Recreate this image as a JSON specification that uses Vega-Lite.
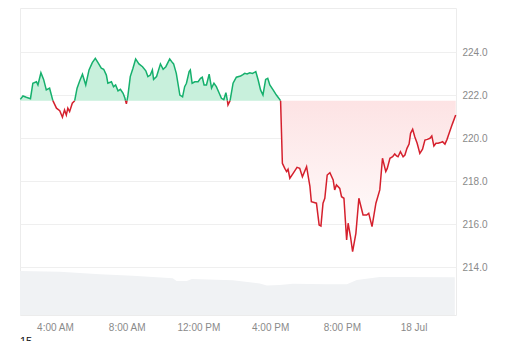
{
  "$schema": "https://vega.github.io/schema/vega-lite/v6.json",
  "width": 436,
  "height": 307,
  "autosize": {"type": "none"},
  "padding": {"left": 20, "top": 8, "right": 56, "bottom": 26},
  "background": "#ffffff",
  "config": {"view": {"stroke": "#ececec"}, "font": "Liberation Sans"},
  "title": {"text": "15", "orient": "bottom", "anchor": "start", "frame": "group", "fontSize": 11, "fontWeight": "normal", "color": "#111111", "offset": 4},
  "datasets": {
    "volume": [
      {"t": "2024-07-17T02:03:00Z", "v": 14.3},
      {"t": "2024-07-17T04:16:00Z", "v": 14.1},
      {"t": "2024-07-17T06:30:00Z", "v": 13.3},
      {"t": "2024-07-17T08:20:00Z", "v": 12.8},
      {"t": "2024-07-17T10:34:00Z", "v": 12.0},
      {"t": "2024-07-17T10:47:00Z", "v": 11.1},
      {"t": "2024-07-17T11:21:00Z", "v": 11.1},
      {"t": "2024-07-17T11:38:00Z", "v": 11.7},
      {"t": "2024-07-17T13:55:00Z", "v": 11.3},
      {"t": "2024-07-17T15:25:00Z", "v": 10.3},
      {"t": "2024-07-17T15:49:00Z", "v": 9.6},
      {"t": "2024-07-17T16:32:00Z", "v": 9.8},
      {"t": "2024-07-17T17:16:00Z", "v": 10.2},
      {"t": "2024-07-17T19:10:00Z", "v": 10.0},
      {"t": "2024-07-17T20:17:00Z", "v": 10.0},
      {"t": "2024-07-17T20:50:00Z", "v": 11.4},
      {"t": "2024-07-17T22:07:00Z", "v": 12.4},
      {"t": "2024-07-17T23:14:00Z", "v": 12.4},
      {"t": "2024-07-18T02:18:00Z", "v": 12.3}
    ],
    "price": [
      {"t": "2024-07-17T02:04:00Z", "p": 221.81, "s": "g1", "d": "up"},
      {"t": "2024-07-17T02:13:00Z", "p": 221.97, "s": "g1", "d": "up"},
      {"t": "2024-07-17T02:24:00Z", "p": 221.91, "s": "g1", "d": "up"},
      {"t": "2024-07-17T02:38:00Z", "p": 221.84, "s": "g1", "d": "up"},
      {"t": "2024-07-17T02:46:00Z", "p": 222.56, "s": "g1", "d": "up"},
      {"t": "2024-07-17T02:58:00Z", "p": 222.63, "s": "g1", "d": "up"},
      {"t": "2024-07-17T03:03:00Z", "p": 222.48, "s": "g1", "d": "up"},
      {"t": "2024-07-17T03:13:00Z", "p": 223.05, "s": "g1", "d": "up"},
      {"t": "2024-07-17T03:22:00Z", "p": 222.74, "s": "g1", "d": "up"},
      {"t": "2024-07-17T03:31:00Z", "p": 222.25, "s": "g1", "d": "up"},
      {"t": "2024-07-17T03:42:00Z", "p": 222.33, "s": "g1", "d": "up"},
      {"t": "2024-07-17T03:53:00Z", "p": 221.75, "s": "g1", "d": "up"},
      {"t": "2024-07-17T03:53:00Z", "p": 221.75, "s": "r1", "d": "down"},
      {"t": "2024-07-17T04:05:00Z", "p": 221.40, "s": "r1", "d": "down"},
      {"t": "2024-07-17T04:16:00Z", "p": 221.28, "s": "r1", "d": "down"},
      {"t": "2024-07-17T04:25:00Z", "p": 220.98, "s": "r1", "d": "down"},
      {"t": "2024-07-17T04:32:00Z", "p": 221.32, "s": "r1", "d": "down"},
      {"t": "2024-07-17T04:38:00Z", "p": 221.08, "s": "r1", "d": "down"},
      {"t": "2024-07-17T04:43:00Z", "p": 221.40, "s": "r1", "d": "down"},
      {"t": "2024-07-17T04:49:00Z", "p": 221.24, "s": "r1", "d": "down"},
      {"t": "2024-07-17T04:58:00Z", "p": 221.63, "s": "r1", "d": "down"},
      {"t": "2024-07-17T05:06:00Z", "p": 221.75, "s": "r1", "d": "down"},
      {"t": "2024-07-17T05:06:00Z", "p": 221.75, "s": "g2", "d": "up"},
      {"t": "2024-07-17T05:14:00Z", "p": 222.33, "s": "g2", "d": "up"},
      {"t": "2024-07-17T05:23:00Z", "p": 222.68, "s": "g2", "d": "up"},
      {"t": "2024-07-17T05:32:00Z", "p": 222.98, "s": "g2", "d": "up"},
      {"t": "2024-07-17T05:43:00Z", "p": 222.48, "s": "g2", "d": "up"},
      {"t": "2024-07-17T05:54:00Z", "p": 223.18, "s": "g2", "d": "up"},
      {"t": "2024-07-17T06:05:00Z", "p": 223.52, "s": "g2", "d": "up"},
      {"t": "2024-07-17T06:15:00Z", "p": 223.72, "s": "g2", "d": "up"},
      {"t": "2024-07-17T06:24:00Z", "p": 223.52, "s": "g2", "d": "up"},
      {"t": "2024-07-17T06:35:00Z", "p": 223.26, "s": "g2", "d": "up"},
      {"t": "2024-07-17T06:43:00Z", "p": 223.21, "s": "g2", "d": "up"},
      {"t": "2024-07-17T06:52:00Z", "p": 222.94, "s": "g2", "d": "up"},
      {"t": "2024-07-17T06:57:00Z", "p": 222.56, "s": "g2", "d": "up"},
      {"t": "2024-07-17T07:09:00Z", "p": 222.63, "s": "g2", "d": "up"},
      {"t": "2024-07-17T07:16:00Z", "p": 222.40, "s": "g2", "d": "up"},
      {"t": "2024-07-17T07:23:00Z", "p": 222.48, "s": "g2", "d": "up"},
      {"t": "2024-07-17T07:31:00Z", "p": 222.21, "s": "g2", "d": "up"},
      {"t": "2024-07-17T07:39:00Z", "p": 222.28, "s": "g2", "d": "up"},
      {"t": "2024-07-17T07:48:00Z", "p": 222.09, "s": "g2", "d": "up"},
      {"t": "2024-07-17T07:54:00Z", "p": 221.87, "s": "g2", "d": "up"},
      {"t": "2024-07-17T07:56:00Z", "p": 221.75, "s": "g2", "d": "up"},
      {"t": "2024-07-17T07:56:00Z", "p": 221.75, "s": "r2", "d": "down"},
      {"t": "2024-07-17T07:59:00Z", "p": 221.60, "s": "r2", "d": "down"},
      {"t": "2024-07-17T08:01:00Z", "p": 221.75, "s": "r2", "d": "down"},
      {"t": "2024-07-17T08:01:00Z", "p": 221.75, "s": "g3", "d": "up"},
      {"t": "2024-07-17T08:04:00Z", "p": 221.97, "s": "g3", "d": "up"},
      {"t": "2024-07-17T08:12:00Z", "p": 222.87, "s": "g3", "d": "up"},
      {"t": "2024-07-17T08:21:00Z", "p": 223.26, "s": "g3", "d": "up"},
      {"t": "2024-07-17T08:30:00Z", "p": 223.69, "s": "g3", "d": "up"},
      {"t": "2024-07-17T08:41:00Z", "p": 223.46, "s": "g3", "d": "up"},
      {"t": "2024-07-17T08:53:00Z", "p": 223.33, "s": "g3", "d": "up"},
      {"t": "2024-07-17T09:04:00Z", "p": 223.14, "s": "g3", "d": "up"},
      {"t": "2024-07-17T09:11:00Z", "p": 222.87, "s": "g3", "d": "up"},
      {"t": "2024-07-17T09:19:00Z", "p": 222.94, "s": "g3", "d": "up"},
      {"t": "2024-07-17T09:26:00Z", "p": 223.18, "s": "g3", "d": "up"},
      {"t": "2024-07-17T09:30:00Z", "p": 222.74, "s": "g3", "d": "up"},
      {"t": "2024-07-17T09:40:00Z", "p": 222.87, "s": "g3", "d": "up"},
      {"t": "2024-07-17T09:53:00Z", "p": 223.46, "s": "g3", "d": "up"},
      {"t": "2024-07-17T10:02:00Z", "p": 223.21, "s": "g3", "d": "up"},
      {"t": "2024-07-17T10:11:00Z", "p": 223.33, "s": "g3", "d": "up"},
      {"t": "2024-07-17T10:24:00Z", "p": 223.69, "s": "g3", "d": "up"},
      {"t": "2024-07-17T10:33:00Z", "p": 223.52, "s": "g3", "d": "up"},
      {"t": "2024-07-17T10:37:00Z", "p": 223.46, "s": "g3", "d": "up"},
      {"t": "2024-07-17T10:46:00Z", "p": 223.02, "s": "g3", "d": "up"},
      {"t": "2024-07-17T10:58:00Z", "p": 222.01, "s": "g3", "d": "up"},
      {"t": "2024-07-17T11:07:00Z", "p": 221.93, "s": "g3", "d": "up"},
      {"t": "2024-07-17T11:14:00Z", "p": 222.40, "s": "g3", "d": "up"},
      {"t": "2024-07-17T11:20:00Z", "p": 222.56, "s": "g3", "d": "up"},
      {"t": "2024-07-17T11:29:00Z", "p": 223.10, "s": "g3", "d": "up"},
      {"t": "2024-07-17T11:33:00Z", "p": 223.18, "s": "g3", "d": "up"},
      {"t": "2024-07-17T11:39:00Z", "p": 222.56, "s": "g3", "d": "up"},
      {"t": "2024-07-17T11:48:00Z", "p": 222.63, "s": "g3", "d": "up"},
      {"t": "2024-07-17T11:59:00Z", "p": 222.63, "s": "g3", "d": "up"},
      {"t": "2024-07-17T12:07:00Z", "p": 222.79, "s": "g3", "d": "up"},
      {"t": "2024-07-17T12:13:00Z", "p": 222.84, "s": "g3", "d": "up"},
      {"t": "2024-07-17T12:19:00Z", "p": 222.48, "s": "g3", "d": "up"},
      {"t": "2024-07-17T12:27:00Z", "p": 222.48, "s": "g3", "d": "up"},
      {"t": "2024-07-17T12:36:00Z", "p": 222.98, "s": "g3", "d": "up"},
      {"t": "2024-07-17T12:44:00Z", "p": 222.33, "s": "g3", "d": "up"},
      {"t": "2024-07-17T12:52:00Z", "p": 222.56, "s": "g3", "d": "up"},
      {"t": "2024-07-17T13:00:00Z", "p": 222.40, "s": "g3", "d": "up"},
      {"t": "2024-07-17T13:09:00Z", "p": 222.12, "s": "g3", "d": "up"},
      {"t": "2024-07-17T13:17:00Z", "p": 221.86, "s": "g3", "d": "up"},
      {"t": "2024-07-17T13:25:00Z", "p": 221.80, "s": "g3", "d": "up"},
      {"t": "2024-07-17T13:32:00Z", "p": 222.12, "s": "g3", "d": "up"},
      {"t": "2024-07-17T13:37:00Z", "p": 221.75, "s": "g3", "d": "up"},
      {"t": "2024-07-17T13:37:00Z", "p": 221.75, "s": "r3", "d": "down"},
      {"t": "2024-07-17T13:39:00Z", "p": 221.55, "s": "r3", "d": "down"},
      {"t": "2024-07-17T13:46:00Z", "p": 221.75, "s": "r3", "d": "down"},
      {"t": "2024-07-17T13:46:00Z", "p": 221.75, "s": "g4", "d": "up"},
      {"t": "2024-07-17T13:56:00Z", "p": 222.56, "s": "g4", "d": "up"},
      {"t": "2024-07-17T14:07:00Z", "p": 222.84, "s": "g4", "d": "up"},
      {"t": "2024-07-17T14:21:00Z", "p": 222.90, "s": "g4", "d": "up"},
      {"t": "2024-07-17T14:29:00Z", "p": 222.96, "s": "g4", "d": "up"},
      {"t": "2024-07-17T14:35:00Z", "p": 223.02, "s": "g4", "d": "up"},
      {"t": "2024-07-17T14:43:00Z", "p": 222.99, "s": "g4", "d": "up"},
      {"t": "2024-07-17T14:52:00Z", "p": 223.05, "s": "g4", "d": "up"},
      {"t": "2024-07-17T15:01:00Z", "p": 223.02, "s": "g4", "d": "up"},
      {"t": "2024-07-17T15:12:00Z", "p": 223.10, "s": "g4", "d": "up"},
      {"t": "2024-07-17T15:20:00Z", "p": 222.71, "s": "g4", "d": "up"},
      {"t": "2024-07-17T15:28:00Z", "p": 222.25, "s": "g4", "d": "up"},
      {"t": "2024-07-17T15:36:00Z", "p": 222.01, "s": "g4", "d": "up"},
      {"t": "2024-07-17T15:45:00Z", "p": 222.74, "s": "g4", "d": "up"},
      {"t": "2024-07-17T15:52:00Z", "p": 222.79, "s": "g4", "d": "up"},
      {"t": "2024-07-17T15:59:00Z", "p": 222.48, "s": "g4", "d": "up"},
      {"t": "2024-07-17T16:10:00Z", "p": 222.25, "s": "g4", "d": "up"},
      {"t": "2024-07-17T16:21:00Z", "p": 222.01, "s": "g4", "d": "up"},
      {"t": "2024-07-17T16:35:00Z", "p": 221.75, "s": "g4", "d": "up"},
      {"t": "2024-07-17T16:35:00Z", "p": 221.75, "s": "r4", "d": "down"},
      {"t": "2024-07-17T16:41:00Z", "p": 218.84, "s": "r4", "d": "down"},
      {"t": "2024-07-17T16:49:00Z", "p": 218.60, "s": "r4", "d": "down"},
      {"t": "2024-07-17T16:55:00Z", "p": 218.45, "s": "r4", "d": "down"},
      {"t": "2024-07-17T17:00:00Z", "p": 218.56, "s": "r4", "d": "down"},
      {"t": "2024-07-17T17:06:00Z", "p": 218.14, "s": "r4", "d": "down"},
      {"t": "2024-07-17T17:17:00Z", "p": 218.37, "s": "r4", "d": "down"},
      {"t": "2024-07-17T17:30:00Z", "p": 218.65, "s": "r4", "d": "down"},
      {"t": "2024-07-17T17:39:00Z", "p": 218.60, "s": "r4", "d": "down"},
      {"t": "2024-07-17T17:48:00Z", "p": 218.21, "s": "r4", "d": "down"},
      {"t": "2024-07-17T18:02:00Z", "p": 218.68, "s": "r4", "d": "down"},
      {"t": "2024-07-17T18:13:00Z", "p": 217.78, "s": "r4", "d": "down"},
      {"t": "2024-07-17T18:18:00Z", "p": 217.05, "s": "r4", "d": "down"},
      {"t": "2024-07-17T18:30:00Z", "p": 217.00, "s": "r4", "d": "down"},
      {"t": "2024-07-17T18:35:00Z", "p": 216.98, "s": "r4", "d": "down"},
      {"t": "2024-07-17T18:44:00Z", "p": 215.97, "s": "r4", "d": "down"},
      {"t": "2024-07-17T18:50:00Z", "p": 215.92, "s": "r4", "d": "down"},
      {"t": "2024-07-17T18:57:00Z", "p": 216.98, "s": "r4", "d": "down"},
      {"t": "2024-07-17T19:03:00Z", "p": 217.21, "s": "r4", "d": "down"},
      {"t": "2024-07-17T19:11:00Z", "p": 218.29, "s": "r4", "d": "down"},
      {"t": "2024-07-17T19:20:00Z", "p": 218.40, "s": "r4", "d": "down"},
      {"t": "2024-07-17T19:31:00Z", "p": 218.06, "s": "r4", "d": "down"},
      {"t": "2024-07-17T19:36:00Z", "p": 217.60, "s": "r4", "d": "down"},
      {"t": "2024-07-17T19:42:00Z", "p": 217.83, "s": "r4", "d": "down"},
      {"t": "2024-07-17T19:53:00Z", "p": 217.67, "s": "r4", "d": "down"},
      {"t": "2024-07-17T19:59:00Z", "p": 217.28, "s": "r4", "d": "down"},
      {"t": "2024-07-17T20:07:00Z", "p": 217.21, "s": "r4", "d": "down"},
      {"t": "2024-07-17T20:16:00Z", "p": 215.27, "s": "r4", "d": "down"},
      {"t": "2024-07-17T20:21:00Z", "p": 216.05, "s": "r4", "d": "down"},
      {"t": "2024-07-17T20:29:00Z", "p": 215.42, "s": "r4", "d": "down"},
      {"t": "2024-07-17T20:36:00Z", "p": 214.73, "s": "r4", "d": "down"},
      {"t": "2024-07-17T20:47:00Z", "p": 215.58, "s": "r4", "d": "down"},
      {"t": "2024-07-17T20:57:00Z", "p": 217.21, "s": "r4", "d": "down"},
      {"t": "2024-07-17T21:11:00Z", "p": 216.43, "s": "r4", "d": "down"},
      {"t": "2024-07-17T21:23:00Z", "p": 216.43, "s": "r4", "d": "down"},
      {"t": "2024-07-17T21:30:00Z", "p": 216.51, "s": "r4", "d": "down"},
      {"t": "2024-07-17T21:41:00Z", "p": 215.89, "s": "r4", "d": "down"},
      {"t": "2024-07-17T21:54:00Z", "p": 216.98, "s": "r4", "d": "down"},
      {"t": "2024-07-17T22:07:00Z", "p": 217.60, "s": "r4", "d": "down"},
      {"t": "2024-07-17T22:16:00Z", "p": 219.07, "s": "r4", "d": "down"},
      {"t": "2024-07-17T22:27:00Z", "p": 218.45, "s": "r4", "d": "down"},
      {"t": "2024-07-17T22:32:00Z", "p": 218.60, "s": "r4", "d": "down"},
      {"t": "2024-07-17T22:41:00Z", "p": 219.07, "s": "r4", "d": "down"},
      {"t": "2024-07-17T22:50:00Z", "p": 219.14, "s": "r4", "d": "down"},
      {"t": "2024-07-17T22:57:00Z", "p": 219.27, "s": "r4", "d": "down"},
      {"t": "2024-07-17T23:03:00Z", "p": 219.18, "s": "r4", "d": "down"},
      {"t": "2024-07-17T23:08:00Z", "p": 219.14, "s": "r4", "d": "down"},
      {"t": "2024-07-17T23:16:00Z", "p": 219.38, "s": "r4", "d": "down"},
      {"t": "2024-07-17T23:25:00Z", "p": 219.14, "s": "r4", "d": "down"},
      {"t": "2024-07-17T23:31:00Z", "p": 219.22, "s": "r4", "d": "down"},
      {"t": "2024-07-17T23:38:00Z", "p": 219.53, "s": "r4", "d": "down"},
      {"t": "2024-07-17T23:45:00Z", "p": 219.73, "s": "r4", "d": "down"},
      {"t": "2024-07-17T23:50:00Z", "p": 220.23, "s": "r4", "d": "down"},
      {"t": "2024-07-17T23:57:00Z", "p": 220.42, "s": "r4", "d": "down"},
      {"t": "2024-07-18T00:04:00Z", "p": 220.07, "s": "r4", "d": "down"},
      {"t": "2024-07-18T00:12:00Z", "p": 219.77, "s": "r4", "d": "down"},
      {"t": "2024-07-18T00:21:00Z", "p": 219.30, "s": "r4", "d": "down"},
      {"t": "2024-07-18T00:30:00Z", "p": 219.49, "s": "r4", "d": "down"},
      {"t": "2024-07-18T00:38:00Z", "p": 219.92, "s": "r4", "d": "down"},
      {"t": "2024-07-18T00:46:00Z", "p": 219.95, "s": "r4", "d": "down"},
      {"t": "2024-07-18T00:55:00Z", "p": 220.00, "s": "r4", "d": "down"},
      {"t": "2024-07-18T01:01:00Z", "p": 220.11, "s": "r4", "d": "down"},
      {"t": "2024-07-18T01:08:00Z", "p": 219.64, "s": "r4", "d": "down"},
      {"t": "2024-07-18T01:15:00Z", "p": 219.77, "s": "r4", "d": "down"},
      {"t": "2024-07-18T01:22:00Z", "p": 219.77, "s": "r4", "d": "down"},
      {"t": "2024-07-18T01:30:00Z", "p": 219.80, "s": "r4", "d": "down"},
      {"t": "2024-07-18T01:37:00Z", "p": 219.84, "s": "r4", "d": "down"},
      {"t": "2024-07-18T01:45:00Z", "p": 219.73, "s": "r4", "d": "down"},
      {"t": "2024-07-18T01:52:00Z", "p": 219.95, "s": "r4", "d": "down"},
      {"t": "2024-07-18T02:01:00Z", "p": 220.31, "s": "r4", "d": "down"},
      {"t": "2024-07-18T02:10:00Z", "p": 220.67, "s": "r4", "d": "down"},
      {"t": "2024-07-18T02:21:00Z", "p": 221.08, "s": "r4", "d": "down"}
    ]
  },
  "layer": [
    {
      "data": {"name": "volume"},
      "mark": {"type": "area", "color": "#f0f2f4", "interpolate": "linear"},
      "encoding": {
        "x": {
          "field": "t", "type": "temporal",
          "scale": {"type": "utc", "domain": [
            {"year": 2024, "month": 7, "date": 17, "hours": 2, "minutes": 3, "utc": true},
            {"year": 2024, "month": 7, "date": 18, "hours": 2, "minutes": 22, "utc": true}
          ]},
          "axis": {
            "title": null, "grid": false, "domain": false, "ticks": false,
            "labelPadding": 7, "labelColor": "#8a8a8a", "labelFontSize": 10, "labelFont": "Liberation Sans",
            "values": [
              {"year": 2024, "month": 7, "date": 17, "hours": 4, "utc": true},
              {"year": 2024, "month": 7, "date": 17, "hours": 8, "utc": true},
              {"year": 2024, "month": 7, "date": 17, "hours": 12, "utc": true},
              {"year": 2024, "month": 7, "date": 17, "hours": 16, "utc": true},
              {"year": 2024, "month": 7, "date": 17, "hours": 20, "utc": true},
              {"year": 2024, "month": 7, "date": 18, "hours": 0, "utc": true}
            ],
            "labelExpr": "utchours(datum.value) == 0 ? utcFormat(datum.value, '%-d %b') : utcFormat(datum.value, '%-I:%M %p')"
          }
        },
        "y": {"field": "v", "type": "quantitative", "scale": {"domain": [0, 100]}, "axis": null}
      }
    },
    {
      "layer": [
        {
          "data": {"name": "price"},
          "transform": [{"filter": "datum.d == 'up'"}],
          "mark": {"type": "area", "color": "#c8f0dc", "opacity": 1},
          "encoding": {
            "x": {"field": "t", "type": "temporal"},
            "y": {
              "field": "p", "type": "quantitative",
              "scale": {"domain": [211.78, 226.06], "nice": false, "zero": false},
              "axis": {
                "orient": "right", "title": null, "values": [214, 216, 218, 220, 222, 224],
                "format": ".1f", "grid": true, "gridColor": "#efefef", "domain": false, "ticks": false,
                "labelPadding": 6, "labelColor": "#8a8a8a", "labelFontSize": 10, "labelFont": "Liberation Sans"
              }
            },
            "y2": {"datum": 221.75},
            "detail": {"field": "s"}
          }
        },
        {
          "data": {"name": "price"},
          "transform": [{"filter": "datum.s == 'r4'"}],
          "mark": {
            "type": "area",
            "color": {
              "gradient": "linear", "x1": 0, "y1": 0, "x2": 0, "y2": 1,
              "stops": [{"offset": 0, "color": "#fde3e4"}, {"offset": 1, "color": "#ffffff"}]
            }
          },
          "encoding": {
            "x": {"field": "t", "type": "temporal"},
            "y": {"field": "p", "type": "quantitative"},
            "y2": {"datum": 221.75},
            "detail": {"field": "s"}
          }
        },
        {
          "mark": {"type": "rule", "color": "#b8b8b8", "strokeDash": [1.5, 2.5], "strokeWidth": 1},
          "encoding": {"y": {"datum": 221.75}}
        },
        {
          "data": {"name": "price"},
          "mark": {"type": "line", "strokeWidth": 1.5},
          "encoding": {
            "x": {"field": "t", "type": "temporal"},
            "y": {"field": "p", "type": "quantitative"},
            "color": {"field": "d", "type": "nominal", "scale": {"domain": ["up", "down"], "range": ["#16b06d", "#d5202d"]}, "legend": null},
            "detail": {"field": "s"}
          }
        }
      ]
    }
  ],
  "resolve": {"scale": {"y": "independent"}}
}
